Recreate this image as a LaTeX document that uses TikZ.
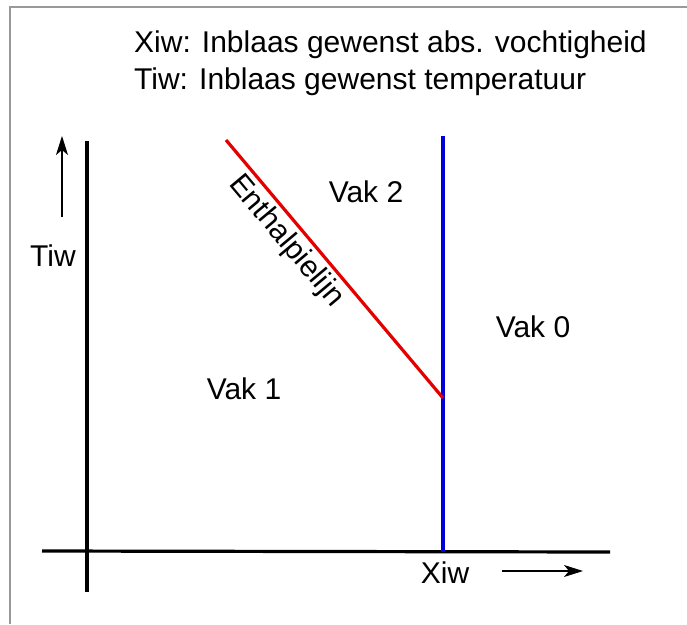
\documentclass[tikz,border=0pt]{standalone}
\usepackage{fontspec}
\setmainfont{Liberation Sans}
\usetikzlibrary{arrows.meta}
\tikzset{
  lbl/.style={inner sep=0pt, font=\fontsize{30}{34}\selectfont},
  axis/.style={line width=3.2pt, black},
  frame/.style={line width=1.6pt, gray!80},
  dirarrow/.style={line width=1.2pt, -{Stealth[length=19pt,width=12pt,inset=5pt]}},
}
\begin{document}
\begin{tikzpicture}[x=1pt,y=-1pt]
\useasboundingbox (0,0) rectangle (687,624);
% frame
\coordinate (f1) at (10,624);
\coordinate (f2) at (10,7);
\coordinate (f3) at (687,7);
\draw[frame] (f1) -- (f2) -- (f3);
% title
\node[lbl, anchor=west] (t1) at (134,45) {Xiw: Inblaas gewenst abs. vochtigheid};
\node[lbl, anchor=west] (t2) at (134,82) {Tiw: Inblaas gewenst temperatuur};
% axes
\coordinate (ya) at (87,141);
\coordinate (yb) at (87,592);
\coordinate (xa) at (42,551);
\coordinate (xb) at (610,552);
\draw[axis] (ya) -- (yb);
\draw[axis] (xa) -- (xb);
% blue line
\coordinate (ba) at (443,136);
\coordinate (bb) at (443,552);
\draw[line width=3.2pt, blue!85!black] (ba) -- (bb);
% red line
\coordinate (ra) at (226,140);
\coordinate (rb) at (443,398);
\draw[line width=3.2pt, red!90!black] (ra) -- (rb);
% labels
\node[lbl] (ent) at (286,241) [rotate=-50] {Enthalpielijn};
\node[lbl] (v2) at (366,192) {Vak 2};
\node[lbl] (v0) at (533,327) {Vak 0};
\node[lbl] (v1) at (244,389) {Vak 1};
\node[lbl] (tiw) at (53,256) {Tiw};
\node[lbl] (xiw) at (445,573) {Xiw};
% direction arrows
\coordinate (ua) at (62,217);
\coordinate (ub) at (62,136);
\draw[dirarrow] (ua) -- (ub);
\coordinate (ra2) at (502,571);
\coordinate (rb2) at (583,571);
\draw[dirarrow] (ra2) -- (rb2);
\end{tikzpicture}
\end{document}
